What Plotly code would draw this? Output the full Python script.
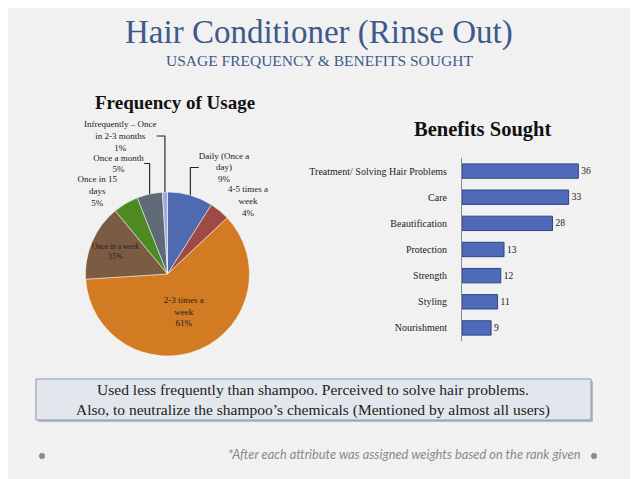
import plotly.graph_objects as go

W, H = 638, 479
OFF = 8  # page body margin in the browser

# ---- data ----
freq_labels = ["Daily (Once a<br>day)", "4-5 times a<br>week", "2-3 times a<br>week",
               "Once in a week", "Once in 15<br>days", "Once a month",
               "Infrequently – Once<br>in 2-3 months"]
freq_values = [9, 4, 61, 15, 5, 5, 1]
freq_colors = ["#4F6BB0", "#A04A48", "#D27B22", "#7B5B42", "#4E8A22", "#5E6A77", "#A3ABDB"]

benefit_labels = ["Treatment/ Solving Hair Problems", "Care", "Beautification",
                  "Protection", "Strength", "Styling", "Nourishment"]
benefit_values = [36, 33, 28, 13, 12, 11, 9]


def px(x):
    return (x - OFF) / W


def py(y):
    return 1 - (y - OFF) / H


fig = go.Figure()

fig.add_trace(go.Pie(
    labels=freq_labels,
    values=freq_values,
    marker=dict(colors=freq_colors, line=dict(color="#ffffff", width=0.5)),
    sort=False,
    direction="clockwise",
    rotation=0,
    texttemplate="%{label}<br>%{percent:.0%}",
    textposition=["outside", "outside", "inside", "inside", "outside", "outside", "outside"],
    insidetextorientation="horizontal",
    textfont=dict(family="Liberation Serif", size=9, color="#222222"),
    domain=dict(x=[px(60), px(275)], y=[py(356), py(192)]),
    showlegend=False,
    automargin=False,
    hoverinfo="label+percent",
))

fig.add_trace(go.Bar(
    x=benefit_values,
    y=benefit_labels,
    orientation="h",
    marker=dict(color="#4F6AB8", line=dict(color="#2E4684", width=1)),
    text=benefit_values,
    textposition="outside",
    textfont=dict(family="Liberation Serif", size=9.5, color="#222222"),
    cliponaxis=False,
    xaxis="x", yaxis="y",
    showlegend=False,
))

fig.update_layout(
    width=W, height=H,
    margin=dict(l=0, r=0, t=0, b=0, autoexpand=False),
    paper_bgcolor="#f1f1f1",
    plot_bgcolor="rgba(0,0,0,0)",
    bargap=0.45,
    xaxis=dict(domain=[px(462), px(600)], range=[0, 42.7], visible=False, automargin=False),
    yaxis=dict(domain=[py(341), py(158)], autorange="reversed", automargin=False,
               showline=True, linecolor="#8a8a8a", linewidth=1,
               ticks="", ticklabelstandoff=12,
               tickfont=dict(family="Liberation Serif", size=10, color="#222222"),
               showgrid=False, zeroline=False),
    font=dict(family="Liberation Serif"),
)

anns = [
    dict(x=px(319), y=py(32), text="Hair Conditioner (Rinse Out)",
         font=dict(family="Liberation Serif", size=33, color="#3D5A8A")),
    dict(x=px(319), y=py(60), text="USAGE FREQUENCY &amp; BENEFITS SOUGHT",
         font=dict(family="Liberation Serif", size=15.5, color="#3D5A8A")),
    dict(x=px(175), y=py(103), text="<b>Frequency of Usage</b>",
         font=dict(family="Liberation Serif", size=19, color="#111111")),
    dict(x=px(482), y=py(130), text="<b>Benefits Sought</b>",
         font=dict(family="Liberation Serif", size=20.5, color="#111111")),
    dict(x=px(313), y=py(400),
         text="Used less frequently than shampoo. Perceived to solve hair problems.<br>"
              "Also, to neutralize the shampoo’s chemicals (Mentioned by almost all users)",
         font=dict(family="Liberation Serif", size=15.5, color="#222222")),
    dict(x=px(583), y=py(454), xanchor="right",
         text="<i>*After each attribute was assigned weights based on the rank given</i>",
         font=dict(family="Lato", size=12.8, color="#8a8a8a")),
]
for a in anns:
    a.setdefault("xanchor", "center")
    a.update(xref="paper", yref="paper", yanchor="middle", showarrow=False)
    fig.add_annotation(**a)

shapes = [
    dict(type="rect", x0=px(38), x1=px(593), y0=py(381), y1=py(422),
         fillcolor="#b8bcc0", line=dict(width=0)),
    dict(type="rect", x0=px(36), x1=px(591), y0=py(379), y1=py(420),
         fillcolor="#e1e7ec", line=dict(color="#8797a3", width=1)),
    dict(type="circle", x0=px(39), x1=px(45), y0=py(453), y1=py(459),
         fillcolor="#8a8a8a", line=dict(width=0)),
    dict(type="circle", x0=px(591), x1=px(597), y0=py(453), y1=py(459),
         fillcolor="#8a8a8a", line=dict(width=0)),
]
for s in shapes:
    s.update(xref="paper", yref="paper", layer="below")
    fig.add_shape(**s)

fig.write_html("out.html")
